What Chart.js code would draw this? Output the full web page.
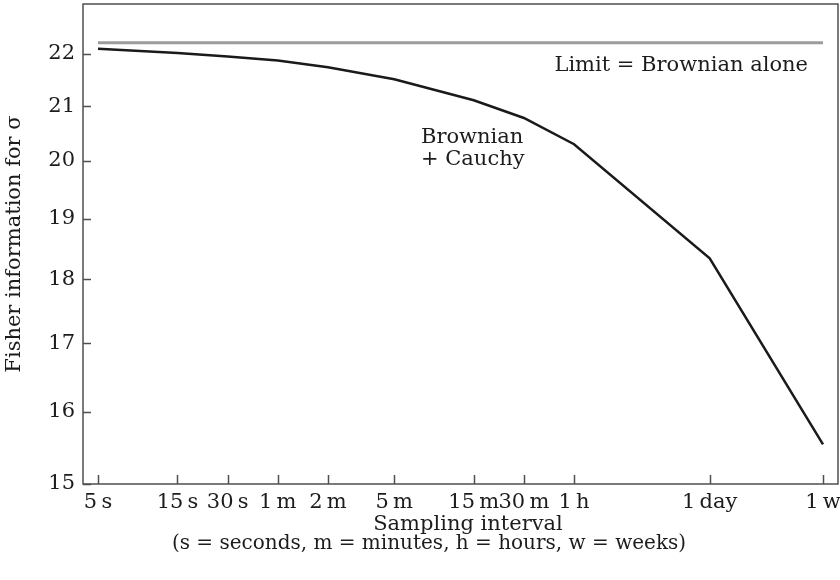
<!DOCTYPE html>
<html>
<head>
<meta charset="utf-8">
<script src="https://cdn.jsdelivr.net/npm/chart.js@4.4.0/dist/chart.umd.min.js"></script>
<style>
  html, body { margin: 0; padding: 0; background: #fff; }
  #wrap { width: 840px; height: 580px; }
</style>
</head>
<body>
<div id="wrap"><canvas id="chart"></canvas></div>
<script>
// sampling intervals, placed on the axis in log10(seconds); the original
// figure squeezes the axis after 1 h, so day and week sit closer in
const intervalLabels = ['5\u2009s', '15\u2009s', '30\u2009s', '1\u2009m', '2\u2009m', '5\u2009m',
  '15\u2009m', '30\u2009m', '1\u2009h', '1\u2009day', '1\u2009w'];
const intervalPos = [0.699, 1.176, 1.477, 1.778, 2.079, 2.477, 2.954, 3.255, 3.556, 4.37, 5.05];

// Fisher information for sigma
const brownianCauchy = [22.10, 22.02, 21.95, 21.87, 21.74, 21.51, 21.11, 20.78, 20.30, 18.34, 15.54];
const brownianLimit = 22.22;

const yTicks = [15, 16, 17, 18, 19, 20, 21, 22];

const FONT = 'DejaVu Serif';
const INK = '#1c1c1c';
const FRAME = '#4f4f4f';

// box round the plot and short tick marks pointing inwards
const frameAndTicks = {
  id: 'frameAndTicks',
  afterDatasetsDraw(chart) {
    const { ctx, chartArea: a, scales } = chart;
    ctx.save();
    ctx.strokeStyle = FRAME;
    ctx.lineWidth = 1.5;
    ctx.beginPath();
    scales.x.ticks.forEach(t => {
      const px = Math.round(scales.x.getPixelForValue(t.value)) + 0.5;
      ctx.moveTo(px, a.bottom);
      ctx.lineTo(px, a.bottom - 9);
    });
    scales.y.ticks.forEach(t => {
      const py = Math.round(scales.y.getPixelForValue(t.value)) + 0.5;
      ctx.moveTo(a.left, py);
      ctx.lineTo(a.left + 8, py);
    });
    ctx.stroke();
    ctx.strokeRect(a.left, a.top, a.right - a.left, a.bottom - a.top);
    ctx.restore();
  }
};

// curve labels and the two-line x axis caption
const notes = {
  id: 'notes',
  afterDraw(chart) {
    const { ctx, scales } = chart;
    ctx.save();
    ctx.fillStyle = INK;
    ctx.font = '21px "' + FONT + '"';
    ctx.textBaseline = 'middle';
    ctx.textAlign = 'right';
    ctx.fillText('Limit = Brownian alone', scales.x.getPixelForValue(intervalPos[10]) - 15,
      scales.y.getPixelForValue(brownianLimit) + 23);
    ctx.textAlign = 'left';
    ctx.fillText('Brownian', 421, 138);
    ctx.fillText('+ Cauchy', 421, 160);
    ctx.textAlign = 'center';
    ctx.fillText('Sampling interval', 468, 525);
    ctx.font = '20px "' + FONT + '"';
    ctx.fillText('(s = seconds, m = minutes, h = hours, w = weeks)', 429, 544);
    ctx.restore();
  }
};

const ctx = document.getElementById('chart').getContext('2d');
new Chart(ctx, {
  type: 'line',
  data: {
    datasets: [{
      data: intervalPos.map((x, i) => ({ x, y: brownianCauchy[i] })),
      borderColor: '#1a1a1a',
      borderWidth: 2.5,
      pointRadius: 0,
      tension: 0,
    }, {
      data: [{ x: intervalPos[0], y: brownianLimit }, { x: intervalPos[intervalPos.length - 1], y: brownianLimit }],
      borderColor: '#9b9b9b',
      borderWidth: 3,
      pointRadius: 0,
    }],
  },
  options: {
    responsive: true,
    maintainAspectRatio: false,
    animation: false,
    layout: { padding: { top: 4, right: 2, left: 0, bottom: 0 } },
    plugins: {
      legend: { display: false },
      tooltip: { enabled: false },
    },
    scales: {
      x: {
        type: 'linear',
        min: 0.609,
        max: 5.14,
        afterBuildTicks: s => { s.ticks = intervalPos.map(v => ({ value: v })); },
        afterFit: s => { s.height = 96; s.paddingLeft = 0; s.paddingRight = 0; },
        grid: { display: false, drawTicks: false, tickLength: 0 },
        border: { display: false },
        ticks: {
          autoSkip: false,
          maxRotation: 0,
          padding: 6,
          color: INK,
          font: { family: FONT, size: 21 },
          callback: (v, i) => intervalLabels[i],
        },
      },
      y: {
        type: 'logarithmic',
        min: 15,
        max: 23,
        afterBuildTicks: s => { s.ticks = yTicks.map(v => ({ value: v })); },
        afterFit: s => { s.width = 83; s.paddingTop = 0; s.paddingBottom = 0; },
        grid: { display: false, drawTicks: false, tickLength: 0 },
        border: { display: false },
        ticks: {
          padding: 8,
          color: INK,
          font: { family: FONT, size: 21 },
          callback: v => String(v),
        },
        title: {
          display: true,
          text: 'Fisher information for σ',
          color: INK,
          font: { family: FONT, size: 21 },
          padding: { top: 2 },
        },
      },
    },
  },
  plugins: [frameAndTicks, notes],
});
</script>
</body>
</html>
